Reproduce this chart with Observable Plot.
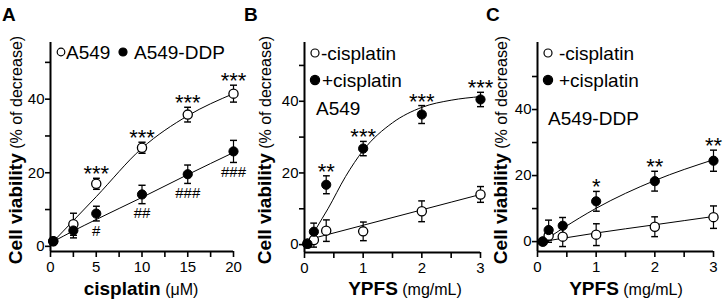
<!DOCTYPE html>
<html><head><meta charset="utf-8">
<script src="https://cdn.jsdelivr.net/npm/d3@7"></script>
<script src="https://cdn.jsdelivr.net/npm/@observablehq/plot@0.6"></script>
<style>
body{margin:0;background:#fff;}
#wrap{position:relative;width:726px;height:303px;overflow:hidden;font-family:"Liberation Sans",Arial,sans-serif;background:#fff;}
#wrap svg{position:absolute;top:0;overflow:visible;background:none;}
#wrap svg g[aria-label^="y-axis"] line, #wrap svg g[aria-label^="y-axis"] path,
#wrap svg g[aria-label^="x-axis"] line, #wrap svg g[aria-label^="x-axis"] path{stroke-width:1.6px;}
</style></head><body><div id="wrap"></div>
<script>
// ---------- Panel A: cisplatin (µM) ----------
const aX = [0.3, 2.5, 5, 10, 15, 20];
const aOpen = [1.4, 6.0, 17.0, 26.8, 35.8, 41.5];
const aOpenErr = [0.8, 3.0, 1.5, 1.5, 2.0, 2.3];
const aFilled = [1.4, 4.3, 8.9, 14.1, 19.6, 25.8];
const aFilledErr = [0.8, 2.0, 2.0, 2.5, 2.5, 3.0];
const aOpenFit = [1.3, 7.0, 13.5, 26.7, 35.5, 41.5];
const aFilledFit = [1.3, 4.2, 7.3, 13.3, 19.5, 25.5];
const aOpenSig = ["", "", "***", "***", "***", "***"];
const aFilledSig = ["", "", "#", "##", "###", "###"];
const aXTicks = [0, 2.5, 5, 7.5, 10, 12.5, 15, 17.5, 20];
const aXLabels = [0, 5, 10, 15, 20];

// ---------- Panel B: YPFS (mg/mL), A549 ----------
const bX = [0.05, 0.16, 0.37, 1, 2, 3];
const bOpen = [0.3, 1.3, 3.9, 3.7, 9.3, 14.0];
const bOpenErr = [0.8, 2.0, 3.0, 2.6, 2.9, 2.2];
const bFilled = [0.2, 3.6, 16.7, 26.8, 36.3, 40.5];
const bFilledErr = [1.0, 2.4, 2.5, 2.0, 2.5, 2.0];
const bOpenFit = [1.3, 1.8, 2.7, 5.4, 9.7, 14.0];
const bFitX = [0.05, 0.1, 0.2, 0.4, 0.7, 1, 1.5, 2, 2.5, 3];
const bFilledFit = [0, 1.5, 4.5, 10, 19, 26.3, 34, 38.3, 40.3, 41.3];
const bFilledSig = ["", "", "**", "***", "***", "***"];

// ---------- Panel C: YPFS (mg/mL), A549-DDP ----------
const cX = [0.09, 0.19, 0.43, 1, 2, 3];
const cOpen = [0, 1.8, 1.5, 2.1, 4.5, 7.4];
const cOpenErr = [0.8, 2.0, 3.0, 3.3, 3.0, 3.4];
const cFilled = [0, 3.5, 4.8, 12.2, 18.3, 24.5];
const cFilledErr = [0.8, 3.0, 2.5, 3.0, 3.0, 3.2];
const cOpenFit = [0, 0.3, 1.0, 2.6, 5.1, 7.6];
const cFilledFit = [0, 1.2, 4.0, 10.1, 18.5, 24.8];
const cFilledSig = ["", "", "", "*", "**", "**"];

const bcXTicks = [0, 0.5, 1, 1.5, 2, 2.5, 3];
const bcXLabels = [0, 1, 2, 3];
const yTicks = [0, 10, 20, 30, 40, 50];
const yLabels = [0, 20, 40];

const FONT = '"Liberation Sans", Arial, sans-serif';

function rows(xs, ys, errs, sig) {
  return xs.map((x, i) => ({x, y: ys[i], err: errs ? errs[i] : 0, sig: sig ? sig[i] : ""}));
}

function panel(cfg) {
  const open = rows(cfg.x, cfg.open, cfg.openErr, cfg.openSig);
  const filled = rows(cfg.x, cfg.filled, cfg.filledErr, cfg.filledSig);
  const openFit = rows(cfg.openFitX, cfg.openFit);
  const filledFit = rows(cfg.filledFitX, cfg.filledFit);
  const errMarks = (data) => Plot.link(data, {
    x1: "x", x2: "x", y1: d => d.y - d.err, y2: d => d.y + d.err,
    stroke: "black", strokeWidth: 1.2, markerStart: "tick", markerEnd: "tick"
  });
  const plot = Plot.plot({
    width: cfg.width, height: 303,
    marginLeft: cfg.ml, marginRight: cfg.mr, marginTop: 42, marginBottom: cfg.mb,
    style: {fontFamily: FONT, fontSize: "15px", background: "none", overflow: "visible", color: "black"},
    x: {domain: cfg.xDomain, ticks: cfg.xTicks, tickFormat: d => cfg.xLabels.includes(d) ? String(d) : "",
        tickSize: 6, tickPadding: 4, label: null},
    y: {domain: cfg.yDomain, ticks: yTicks, tickFormat: d => yLabels.includes(d) ? String(d) : "",
        tickSize: 5, tickPadding: 1, label: null},
    marks: [
      Plot.line(filledFit, {x: "x", y: "y", curve: "monotone-x", stroke: "black", strokeWidth: 1}),
      Plot.line(openFit, {x: "x", y: "y", curve: "monotone-x", stroke: "black", strokeWidth: 1}),
      errMarks(open),
      errMarks(filled),
      Plot.dot(open, {x: "x", y: "y", r: 4.6, fill: "white", stroke: "black", strokeWidth: 1.3}),
      Plot.dot(filled, {x: "x", y: "y", r: 4.6, fill: "black", stroke: "black", strokeWidth: 1}),
      Plot.text(open.filter(d => d.sig), {x: "x", y: d => d.y + d.err, text: "sig", dy: -4, fontSize: 22, fill: "black"}),
      Plot.text(filled.filter(d => d.sig && d.sig[0] === "*"), {x: "x", y: d => d.y + d.err, text: "sig", dy: -4, fontSize: 22, fill: "black"}),
      Plot.text(filled.filter(d => d.sig && d.sig[0] === "#"), {x: "x", y: d => d.y - d.err, text: "sig", dy: 10, fontSize: 15, fill: "black"}),
      Plot.ruleX([cfg.xDomain[0]], {stroke: "black", strokeWidth: 2}),
      Plot.ruleY([cfg.yDomain[0]], {stroke: "black", strokeWidth: 2})
    ]
  });
  plot.style.left = cfg.left + "px";
  const svg = d3.select(plot);
  // panel letter
  svg.append("text").attr("x", 2).attr("y", 21).attr("font-size", 19).attr("font-weight", "bold")
    .attr("text-anchor", "start").attr("font-family", FONT).attr("fill", "black").text(cfg.letter);
  // y title
  const yt = svg.append("text").attr("transform", `translate(${cfg.ytX},150) rotate(-90)`)
    .attr("text-anchor", "middle").attr("font-family", FONT).attr("fill", "black");
  yt.append("tspan").attr("font-weight", "bold").attr("font-size", 19).text("Cell viability");
  yt.append("tspan").attr("font-size", 16).text(" (% of decrease)");
  // x title
  const xt = svg.append("text").attr("x", cfg.xtX).attr("y", 295)
    .attr("text-anchor", "middle").attr("font-family", FONT).attr("fill", "black");
  xt.append("tspan").attr("font-weight", "bold").attr("font-size", 19).text(cfg.xTitle);
  xt.append("tspan").attr("font-size", 16).text(" " + cfg.xUnit);
  cfg.legend(svg);
  return plot;
}

function legendItem(svg, cx, cy, filled, r, tx, label) {
  svg.append("circle").attr("cx", cx).attr("cy", cy).attr("r", r)
    .attr("fill", filled ? "black" : "white").attr("stroke", "black").attr("stroke-width", 1.2);
  svg.append("text").attr("x", tx).attr("y", cy + 7).attr("font-size", 19).attr("font-family", FONT)
    .attr("text-anchor", "start").attr("fill", "black").text(label);
}
function legendLabel(svg, x, y, label) {
  svg.append("text").attr("x", x).attr("y", y).attr("font-size", 19).attr("font-family", FONT)
    .attr("text-anchor", "start").attr("fill", "black").text(label);
}

const wrap = document.getElementById("wrap");

wrap.appendChild(panel({
  letter: "A", left: 0, width: 242, ml: 50, mr: 9, mb: 52,
  x: aX, open: aOpen, openErr: aOpenErr, openSig: aOpenSig,
  filled: aFilled, filledErr: aFilledErr, filledSig: aFilledSig,
  openFitX: aX, openFit: aOpenFit, filledFitX: aX, filledFit: aFilledFit,
  xDomain: [0, 20], xTicks: aXTicks, xLabels: aXLabels,
  yDomain: [-1.4, 55.4], ytX: 22, xtX: 141,
  xTitle: "cisplatin", xUnit: "(\u03bcM)",
  legend: svg => {
    legendItem(svg, 61, 52, false, 3.8, 66, "A549");
    legendItem(svg, 123, 52, true, 4, 134, "A549-DDP");
  }
}));

wrap.appendChild(panel({
  letter: "B", left: 242, width: 242, ml: 62, mr: 4, mb: 51,
  x: bX, open: bOpen, openErr: bOpenErr, openSig: null,
  filled: bFilled, filledErr: bFilledErr, filledSig: bFilledSig,
  openFitX: bX, openFit: bOpenFit, filledFitX: bFitX, filledFit: bFilledFit,
  xDomain: [0, 3], xTicks: bcXTicks, xLabels: bcXLabels,
  yDomain: [-2.2, 56.4], ytX: 29, xtX: 163,
  xTitle: "YPFS", xUnit: "(mg/mL)",
  legend: svg => {
    legendItem(svg, 73, 53, false, 4, 79, "-cisplatin");
    legendItem(svg, 73, 80, true, 4.6, 80, "+cisplatin");
    legendLabel(svg, 74, 115, "A549");
  }
}));

wrap.appendChild(panel({
  letter: "C", left: 484, width: 242, ml: 53, mr: 13, mb: 52,
  x: cX, open: cOpen, openErr: cOpenErr, openSig: null,
  filled: cFilled, filledErr: cFilledErr, filledSig: cFilledSig,
  openFitX: cX, openFit: cOpenFit, filledFitX: cX, filledFit: cFilledFit,
  xDomain: [0, 3], xTicks: bcXTicks, xLabels: bcXLabels,
  yDomain: [-3, 60.3], ytX: 23, xtX: 142,
  xTitle: "YPFS", xUnit: "(mg/mL)",
  legend: svg => {
    legendItem(svg, 64, 53, false, 4, 75, "-cisplatin");
    legendItem(svg, 64, 80, true, 4.6, 75, "+cisplatin");
    legendLabel(svg, 64, 125, "A549-DDP");
  }
}));
</script></body></html>
